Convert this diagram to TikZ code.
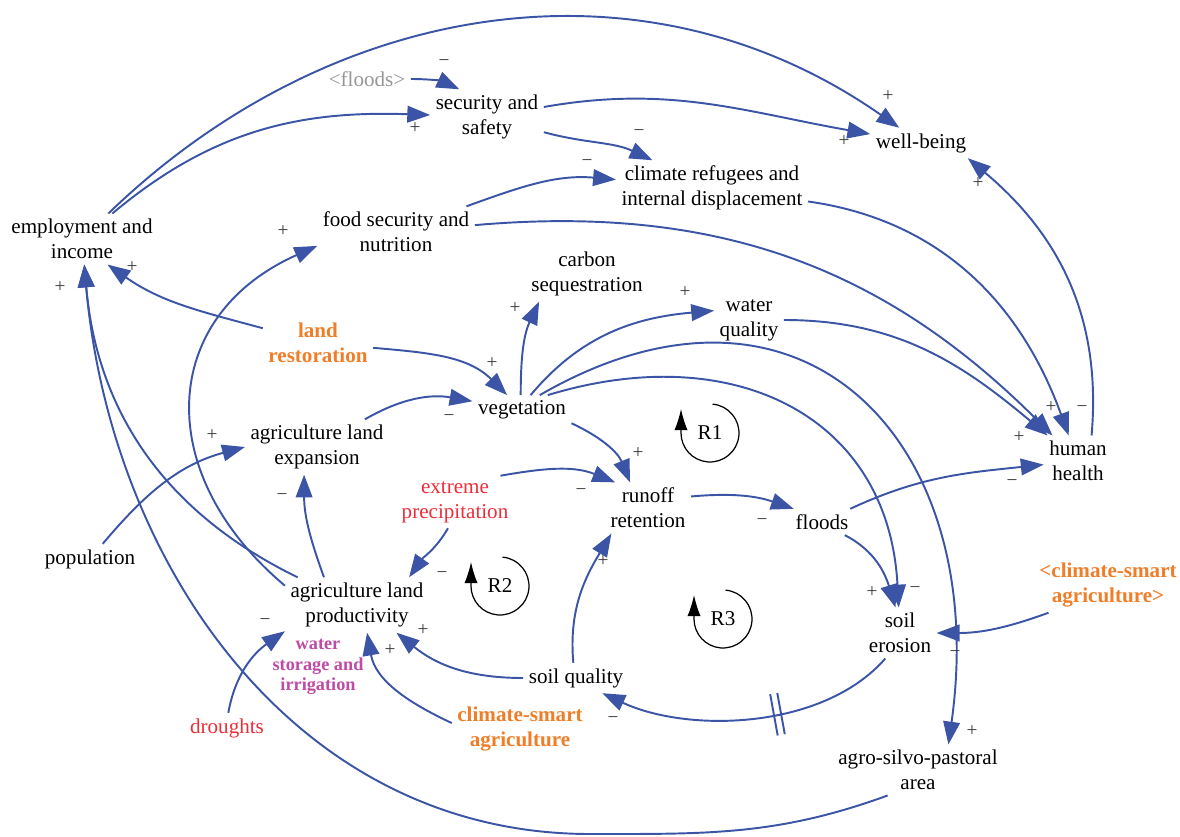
\documentclass[tikz,border=0pt]{standalone}
\usepackage{fontspec}
\setmainfont{Liberation Serif}
\usetikzlibrary{arrows.meta}
\definecolor{lnkblue}{RGB}{59,84,166}
\definecolor{leverorange}{RGB}{240,125,40}
\definecolor{climred}{RGB}{237,45,55}
\definecolor{irrpurple}{RGB}{190,75,165}
\definecolor{shadowgray}{RGB}{150,150,150}
\definecolor{polgray}{RGB}{60,60,60}

\begin{document}
\begin{tikzpicture}[
            x=0.02cm, y=-0.02cm,
            var/.style={
              font=\fontsize{12}{14.2}\selectfont,
              align=center,
              inner sep=3pt
            },
            lever/.style={
              var,
              font=\fontsize{12}{14.2}\selectfont\bfseries,
              text=leverorange
            },
            pol/.style={
              font=\fontsize{11}{13}\selectfont,
              text=polgray,
              inner sep=0pt
            },
            lnk/.style={
              draw=lnkblue,
              line width=1.1pt,
              -{Triangle[length=13pt,width=9.5pt]}
            },
            loopr/.style={
              draw=black,
              line width=0.7pt,
              -{Latex[length=12pt,width=7.5pt]}
            },
            dly/.style={
              sloped,
              minimum width=3pt,
              minimum height=0.8cm,
              inner sep=0pt
            }
        ]
\useasboundingbox (0,0) rectangle (1180,837);

\node[var] (emp) at (82,239) {employment and\\income};
\node[var] (sec) at (487,117) {security and\\safety};
\node[var, text=shadowgray] (fldx) at (367,79) {\textless floods\textgreater};
\node[var] (well) at (921,143) {well-being};
\node[var] (refu) at (712,188) {climate refugees and\\internal displacement};
\node[var] (food) at (396,232) {food security and\\nutrition};
\node[var] (carb) at (587,274) {carbon\\sequestration};
\node[var] (wat) at (749,320) {water\\quality};
\node[lever] (rest) at (318,343) {land\\restoration};
\node[var] (veg) at (522,410) {vegetation};
\node[var] (exp) at (317,447) {agriculture land\\expansion};
\node[var] (hum) at (1078,461) {human\\health};
\node[var, text=climred] (prec) at (455,502) {extreme\\precipitation};
\node[var] (run) at (648,508) {runoff\\retention};
\node[var] (fld) at (822,522) {floods};
\node[var] (pop) at (90,559) {population};
\node[var] (prod) at (357,605) {agriculture land\\productivity};
\node[lever] (csax) at (1108,585) {\textless climate-smart\\agriculture\textgreater};
\node[var] (ero) at (900,633) {soil\\erosion};
\node[var, text=irrpurple, font=\fontsize{10.4}{11.6}\selectfont\bfseries] (irr) at (318,667) {water\\storage and\\irrigation};
\node[var, text=climred] (drou) at (227,728) {droughts};
\node[var] (squal) at (576,678) {soil quality};
\node[lever] (csa) at (520,729) {climate-smart\\agriculture};
\node[var] (agro) at (918,770) {agro-silvo-pastoral\\area};
\coordinate (bot) at (590,834);

\draw[lnk] (emp) to[out=44,in=145] (well);
\draw[lnk] (emp) to[out=40,in=178] (sec);
\draw[lnk] (fldx) to[out=0,in=155] (sec.135);
\draw[lnk] (sec) to[out=10,in=170] (well);
\draw[lnk] (sec) to[out=-15,in=155] (refu);
\draw[lnk] (food) to[out=20,in=175] (refu);
\draw[lnk] (food) to[out=5,in=135] (hum);
\draw[lnk] (wat) to[out=0,in=140] (hum);
\draw[lnk] (refu) to[out=-8,in=110] (hum);
\draw[lnk] (hum.62) to[out=85,in=-40] (well.-18);
\draw[lnk] (rest) to[out=165,in=-35] (emp.-45);
\draw[lnk] (rest) to[out=-5,in=135] (veg);
\draw[lnk] (prod.155) to[out=154,in=-85] (emp);
\draw[lnk] (agro.220) to[out=200,in=0] (bot) to[out=180,in=-85] (emp);
\draw[lnk] (prod.165) to[out=140,in=204,looseness=1.3] (food.190);
\draw[lnk] (pop) to[out=50,in=195] (exp.west);
\draw[lnk] (prod.140) to[out=110,in=-90] (exp.-115);
\draw[lnk] (exp) to[out=30,in=170] (veg);
\draw[lnk] (veg.95) to[out=90,in=245] (carb.210);
\draw[lnk] (veg.60) to[out=50,in=185] (wat.165);
\draw[lnk] (veg.40) to[out=30,in=82,looseness=1.45] (agro.40);
\draw[lnk] (veg.30) to[out=17,in=93,looseness=1.2] (ero);
\draw[lnk] (veg.-15) to[out=-25,in=112] (run.125);
\draw[lnk] (prec.30) to[out=10,in=158] (run.142);
\draw[lnk] (prec.-105) to[out=-120,in=55] (prod.28);
\draw[lnk] (run.15) to[out=5,in=161] (fld.155);
\draw[lnk] (fld.25) to[out=25,in=186] (hum);
\draw[lnk] (fld.-30) to[out=-27,in=107] (ero.100);
\draw[lnk] (csax.-155) to[out=200,in=0] (ero);
\draw[lnk] (ero.-120) to[out=-131,in=-25,looseness=0.85] node[dly, pos=.42] (dl) {} (squal.-30);
\draw[lnk, -] (dl.north west) -- (dl.south west) (dl.north east) -- (dl.south east);
\draw[lnk] (squal.100) to[out=95,in=239] (run.-145);
\draw[lnk] (squal) to[out=180,in=-39] (prod.-35);
\draw[lnk] (csa.175) to[out=155,in=-80] (prod.-70);
\draw[lnk] (drou.85) to[out=80,in=215] (prod.-160);

\foreach \n/\x/\y in {R1/710/433, R2/500/586, R3/723/619}{
    \draw[loopr] (\x,\y) ++(85:0.58cm) arc[start angle=85, end angle=-180, radius=0.58cm] -- ++(90:0.48cm);
    \node[var] (\n) at (\x,\y) {\n};
}

\foreach \s/\x/\y [count=\i] in {+/888/96, +/415/128, −/444/63, +/844/141, −/639/133,
    −/587/163, +/978/183, +/283/231, +/132/267, +/60/287, +/515/308, +/685/292,
    +/492/363, −/449/418, +/212/435, −/282/497, +/638/453, −/581/492, −/442/575,
    −/762/522, +/1051/407, −/1082/409, +/1019/437, −/1012/483, −/265/622,
    +/423/630, +/390/650, +/603/561, +/872/592, −/915/590, −/955/654,
    −/613/720, +/972/731}
    \node[pol] (pol\i) at (\x,\y) {\s};

\end{tikzpicture}
\end{document}
